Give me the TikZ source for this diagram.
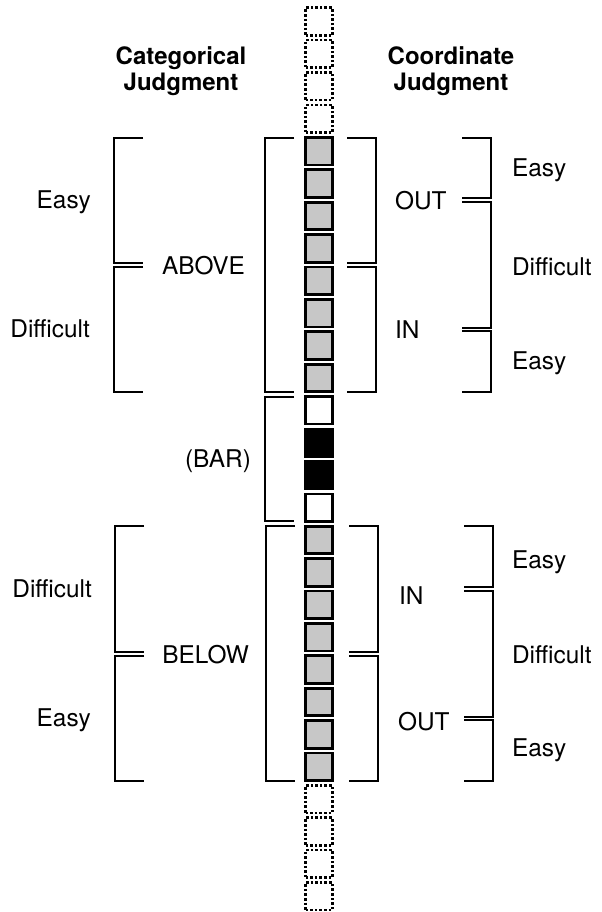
\documentclass[tikz,border=0pt]{standalone}
\usepackage{fontspec}
\setmainfont{TeX Gyre Heros}
\usetikzlibrary{positioning}

\newcommand{\brak}[4]{\draw[brk] (#2,#3) -- (#1,#3) -- (#1,#4) -- (#2,#4);}

\begin{document}
\begin{tikzpicture}[x=0.5pt,y=-0.5pt,
  every node/.style={font=\fontsize{12.2}{13}\selectfont},
  head/.style={font=\bfseries\fontsize{12}{13}\selectfont,align=center},
  cell/.style={minimum width=13.4pt,minimum height=13.8pt,inner sep=0pt},
  outcell/.style={cell,draw,densely dotted,line width=1.3pt},
  greycell/.style={cell,draw,line width=1.4pt,fill=black!22},
  whitecell/.style={cell,draw,line width=1.2pt,fill=white},
  barcell/.style={cell,draw,line width=1.2pt,fill=black},
  brk/.style={line width=1pt}]
  \useasboundingbox (0,0) rectangle (601,912);

  \node[head] (cat) at (181,71) {Categorical\\Judgment};
  \node[head] (coord) at (451,71) {Coordinate\\Judgment};

  \foreach \k in {0,1,2,3,24,25,26,27}
    \node[outcell] (s\k) at (319,{21.5+32.4*\k}) {};
  \foreach \k in {4,...,11,16,17,18,19,20,21,22,23}
    \node[greycell] (s\k) at (319,{21.5+32.4*\k}) {};
  \foreach \k in {12,15}
    \node[whitecell] (s\k) at (319,{21.5+32.4*\k}) {};
  \foreach \k in {13,14}
    \node[barcell] (s\k) at (319,{21.5+32.4*\k}) {};

  \brak{114}{143}{137.5}{263}
  \brak{114}{143}{267}{392}
  \brak{115}{144}{526}{651.5}
  \brak{115}{144}{655.5}{781}

  \brak{265}{294}{137.5}{392}
  \brak{265}{294}{397}{520.5}
  \brak{266}{295}{526}{781}

  \brak{376}{347}{137.5}{263}
  \brak{376}{347}{267}{392}
  \brak{378}{349}{526}{651.5}
  \brak{378}{349}{655.5}{781}

  \brak{491}{462}{137.5}{198}
  \brak{491}{462}{201.5}{327.5}
  \brak{491}{462}{331}{392}
  \brak{493}{464}{526}{586.5}
  \brak{493}{464}{590.5}{716.5}
  \brak{493}{464}{720}{781}

  \node[anchor=base east] (ceasyA) at (98,208.5) {Easy};
  \node[anchor=base east] (cdiffA) at (97,337.5) {Difficult};
  \node[anchor=base east] (cdiffB) at (99,597.5) {Difficult};
  \node[anchor=base east] (ceasyB) at (98,726.5) {Easy};

  \node[anchor=base east] (above) at (252,274.5) {ABOVE};
  \node[anchor=base east] (bar) at (258,467.5) {(BAR)};
  \node[anchor=base east] (below) at (256,663.5) {BELOW};

  \node[anchor=base west] (outA) at (388,209.5) {OUT};
  \node[anchor=base west] (inA) at (388,338.5) {IN};
  \node[anchor=base west] (inB) at (392,604.5) {IN};
  \node[anchor=base west] (outB) at (391,730.5) {OUT};

  \node[anchor=base west] (deasyA) at (505,176.5) {Easy};
  \node[anchor=base west] (ddiffA) at (505,275.5) {Difficult};
  \node[anchor=base west] (deasyB) at (505,369) {Easy};
  \node[anchor=base west] (deasyC) at (505,568.5) {Easy};
  \node[anchor=base west] (ddiffB) at (505,663.5) {Difficult};
  \node[anchor=base west] (deasyD) at (505,756.5) {Easy};
\end{tikzpicture}
\end{document}
